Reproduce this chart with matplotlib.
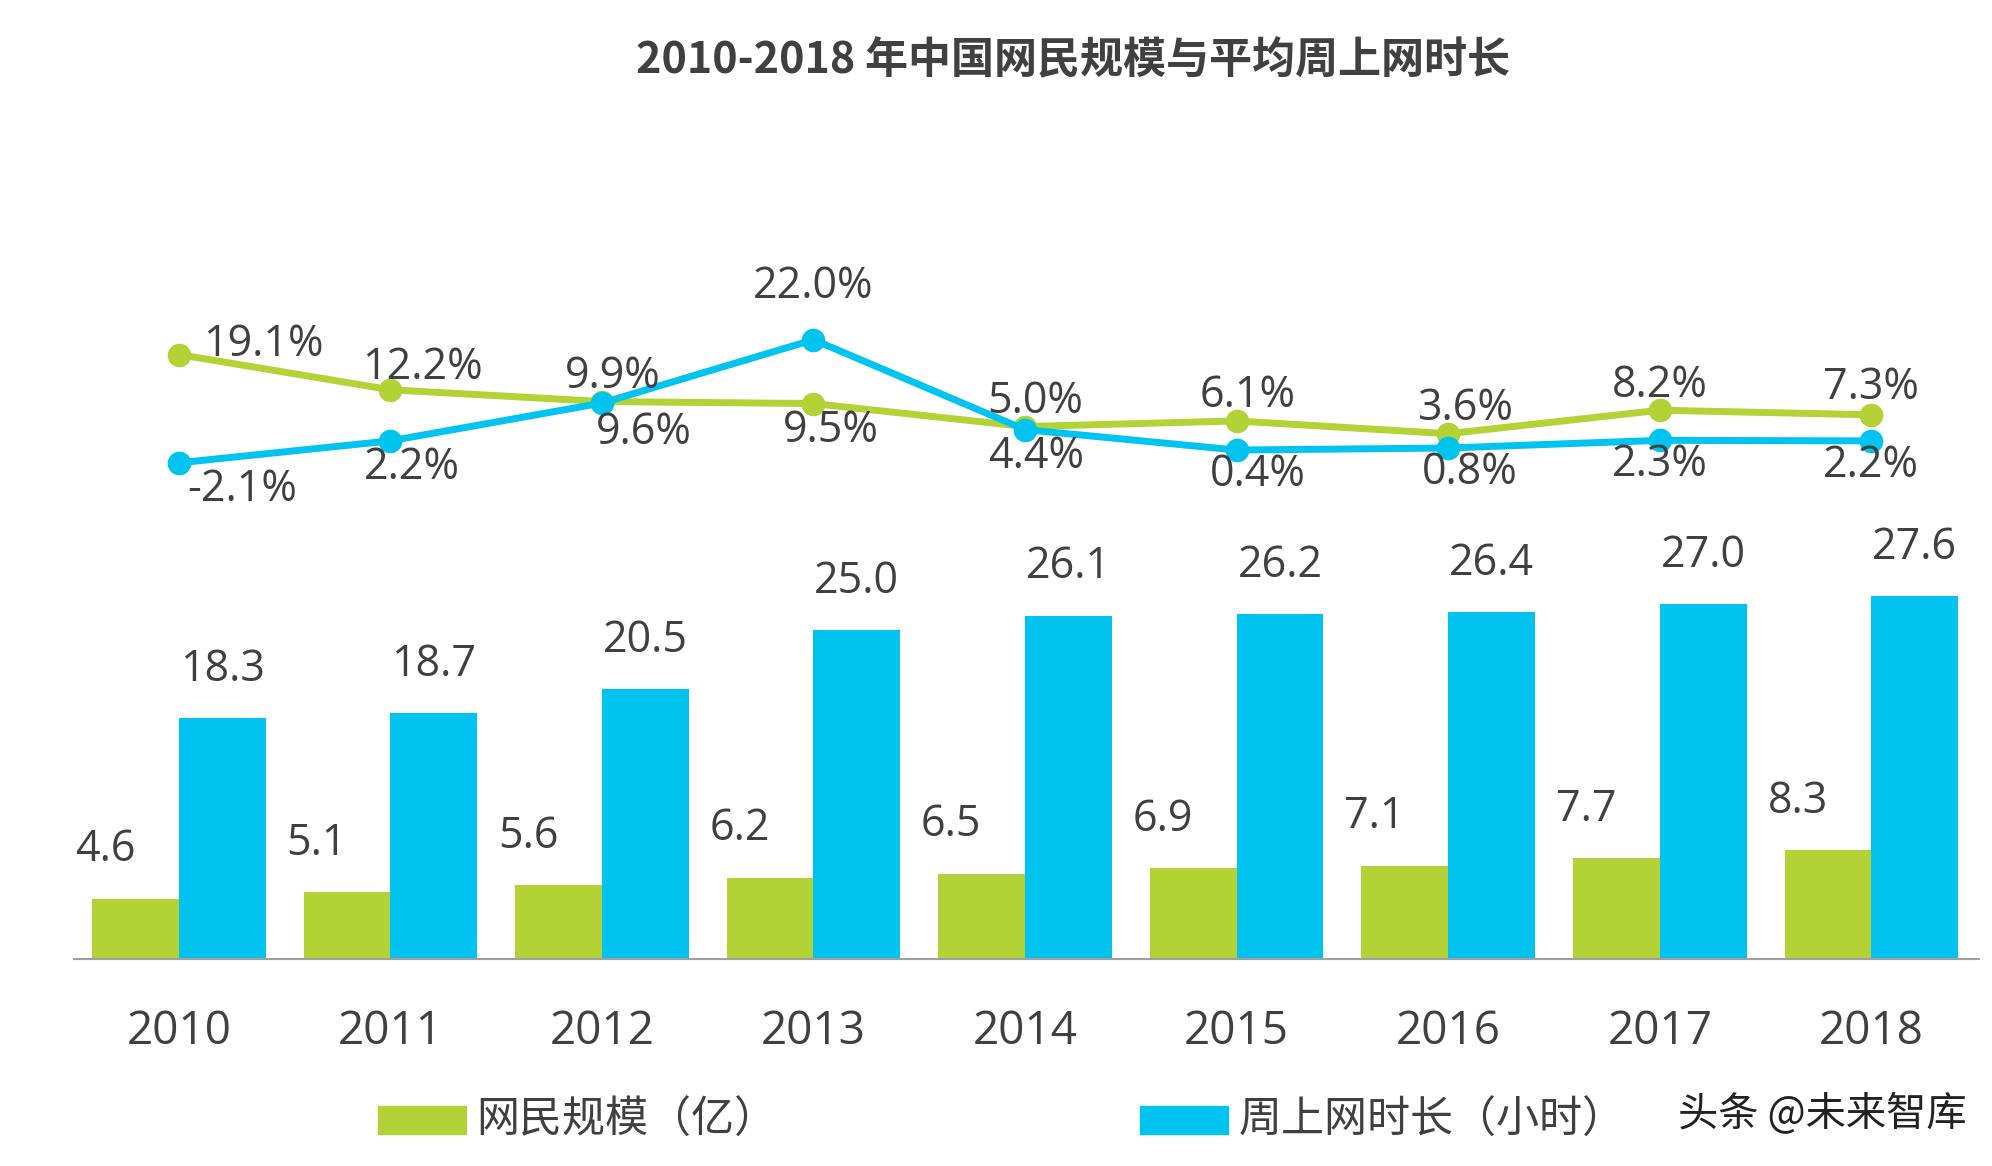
import matplotlib
matplotlib.use("Agg")
import matplotlib.pyplot as plt
import numpy as np
from matplotlib.patches import Rectangle

years = ["2010","2011","2012","2013","2014","2015","2016","2017","2018"]
users = [4.6,5.1,5.6,6.2,6.5,6.9,7.1,7.7,8.3]
hours = [18.3,18.7,20.5,25.0,26.1,26.2,26.4,27.0,27.6]
users_growth = [19.1,12.2,9.9,9.5,5.0,6.1,3.6,8.2,7.3]
hours_growth = [-2.1,2.2,9.6,22.0,4.4,0.4,0.8,2.3,2.2]

plt.rcParams['font.family'] = ['Open Sans', 'Noto Sans CJK SC', 'DejaVu Sans']
GREEN = '#b2d235'; BLUE = '#00c3ef'; TXT = '#404040'
W, H = 1560, 913
fig = plt.figure(figsize=(19.92, 11.66), dpi=100)
ax = fig.add_axes([58/W, 1-751/H, (1550-58)/W, (751-150)/H])
x = np.arange(len(years))
bw = 0.41
ax.bar(x-bw/2, users, bw, color=GREEN)
ax.bar(x+bw/2, hours, bw, color=BLUE)
ax.set_xlim(-0.495, 8.51)
ax.set_ylim(0, 601/10.3)
for s in ['top','right','left']:
    ax.spines[s].set_visible(False)
ax.spines['bottom'].set_color('#a0a0a0'); ax.spines['bottom'].set_linewidth(1.5)
ax.set_yticks([])
ax.set_xticks(x); ax.set_xticklabels(years, fontsize=33, color=TXT)
ax.tick_params(axis='x', length=0, pad=36)
for i in range(len(x)):
    ax.text(x[i]-bw*0.85, users[i]+2.0, f"{users[i]:.1f}", ha='center', va='bottom', fontsize=31, color=TXT)
    ax.text(x[i]+bw/2, hours[i]+2.0, f"{hours[i]:.1f}", ha='center', va='bottom', fontsize=31, color=TXT)

ax2 = ax.twinx()
ax2.set_ylim(-397/4, (354-150)/4)
ax2.axis('off')
ax2.plot(x, users_growth, color=GREEN, lw=5, marker='o', ms=16, zorder=3)
ax2.plot(x, hours_growth, color=BLUE, lw=5, marker='o', ms=16, zorder=4)
g_off = [(0.4,-2.5),(0.15,0),(0.05,0.5),(0.08,-2.5),(0.05,0.5),(0.05,0.5),(0.08,0.5),(0.0,0.5),(0.0,1)]
b_off = [(0.3,-1),(0.1,-1),(0.2,-1.5),(0,6),(0.05,-1),(0.1,-0.5),(0.1,-0.5),(0.0,-0.5),(0.0,-0.5)]
for i in range(len(x)):
    dx, dy = g_off[i]
    below = users_growth[i] in (9.5,)
    ax2.text(x[i]+dx, users_growth[i]+ (dy if not below else -1), f"{users_growth[i]:.1f}%", ha='center',
             va='top' if below else 'bottom', fontsize=31, color=TXT, zorder=5)
    dx, dy = b_off[i]
    above = hours_growth[i] == 22.0
    ax2.text(x[i]+dx, hours_growth[i]+dy, f"{hours_growth[i]:.1f}%", ha='center',
             va='bottom' if above else 'top', fontsize=31, color=TXT, zorder=5)

fig.text(840/W, 1-47/H, "2010-2018 年中国网民规模与平均周上网时长", ha='center', va='center',
         fontsize=31, fontweight='bold', color=TXT, family=['Noto Sans CJK SC','DejaVu Sans'])
fig.patches.append(Rectangle((296/W, 1-888/H), 69/W, 22/H, transform=fig.transFigure, color=GREEN))
fig.patches.append(Rectangle((893/W, 1-888/H), 69/W, 22/H, transform=fig.transFigure, color=BLUE))
fig.text(373/W, 1-878/H, "网民规模（亿）", va='center', fontsize=31, color=TXT, family=['Noto Sans CJK SC','DejaVu Sans'])
fig.text(970/W, 1-878/H, "周上网时长（小时）", va='center', fontsize=31, color=TXT, family=['Noto Sans CJK SC','DejaVu Sans'])
fig.text(1540/W, 1-872/H, "头条 @未来智库", ha='right', va='center', fontsize=29, color='#222222',
         family=['Noto Sans CJK SC','DejaVu Sans'])
fig.savefig("out.png", dpi=100, facecolor='white')
